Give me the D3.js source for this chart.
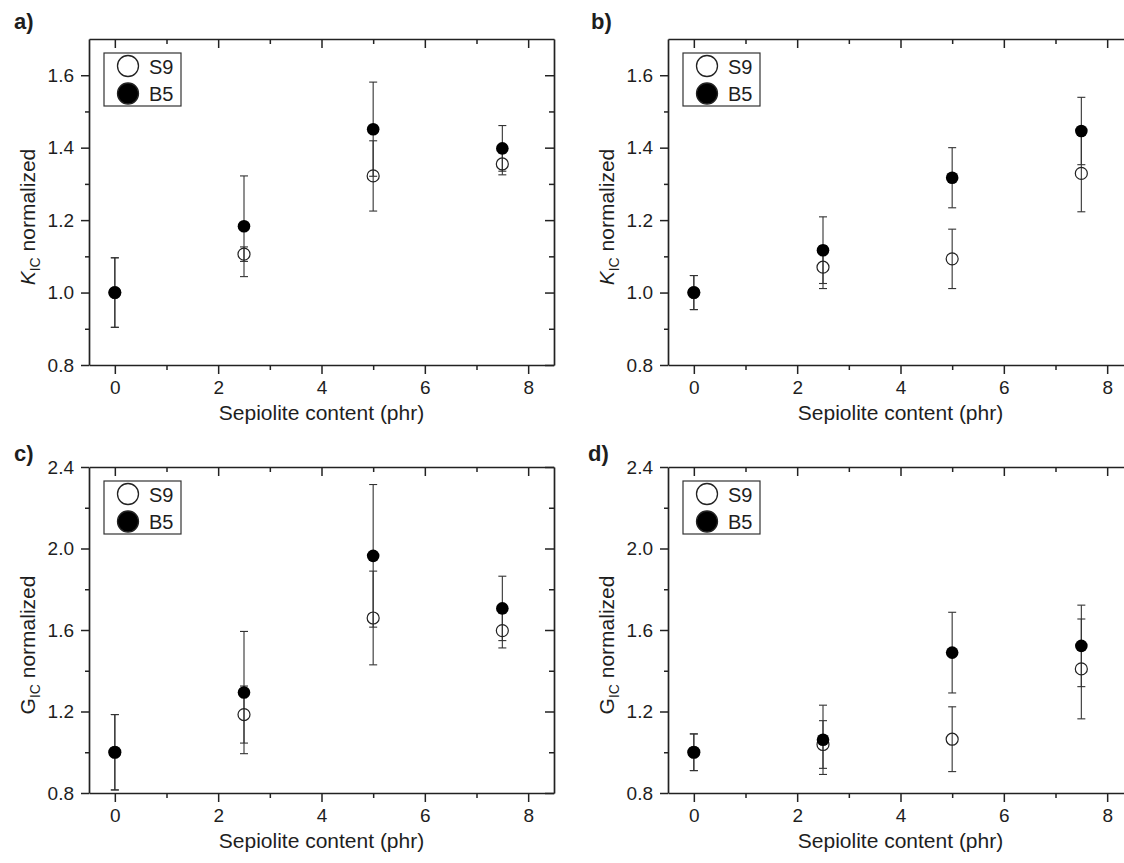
<!DOCTYPE html>
<html lang="en">
<head>
<meta charset="UTF-8">
<title>chart</title>
<style>
  body { margin: 0; background: #fff; }
  svg text { font-family: "Liberation Sans", Arial, sans-serif; fill: #1e1e1e; }
</style>
</head>
<body>
<script src="https://d3js.org/d3.v7.min.js"></script>
<script>
// sepiolite content (phr)
const sepiolite = [0, 2.5, 5, 7.5];
const seriesNames = ['S9', 'B5'];

// a) K_IC, first system
const kA_S9 = [1.0, 1.106, 1.322, 1.355];
const kA_S9err = [0.096, 0.02, 0.097, 0.03];
const kA_B5 = [1.0, 1.183, 1.451, 1.398];
const kA_B5err = [0.096, 0.139, 0.13, 0.063];

// b) K_IC, second system
const kB_S9 = [1.0, 1.070, 1.093, 1.329];
const kB_S9err = [0.047, 0.059, 0.082, 0.106];
const kB_B5 = [1.0, 1.117, 1.317, 1.446];
const kB_B5err = [0.047, 0.092, 0.083, 0.093];

// c) G_IC, first system
const gC_S9 = [1.0, 1.185, 1.659, 1.597];
const gC_S9err = [0.185, 0.14, 0.23, 0.085];
const gC_B5 = [1.0, 1.293, 1.964, 1.706];
const gC_B5err = [0.185, 0.30, 0.35, 0.158];

// d) G_IC, second system
const gD_S9 = [1.0, 1.038, 1.064, 1.409];
const gD_S9err = [0.09, 0.117, 0.159, 0.245];
const gD_B5 = [1.0, 1.061, 1.489, 1.522];
const gD_B5err = [0.09, 0.17, 0.198, 0.2];

// ticks
const xMajor = [0, 2, 4, 6, 8];
const xMinor = [1, 3, 5, 7];
const kMajor = [0.8, 1.0, 1.2, 1.4, 1.6];
const kMinor = [0.9, 1.1, 1.3, 1.5];
const gMajor = [0.8, 1.2, 1.6, 2.0, 2.4];
const gMinor = [1.0, 1.4, 1.8, 2.2];

const width = 1124;
const height = 863;
const plotW = 465;
const plotH = 326;

const svg = d3.select('body')
  .append('svg')
  .attr('width', width)
  .attr('height', height);

const panels = [
  {tag: 'a)', tagX: 14, tagY: 29, left: 89, top: 39, sym: 'K', italic: true,
    yDomain: [0.8, 1.7], major: kMajor, minor: kMinor,
    s9: kA_S9, s9e: kA_S9err, b5: kA_B5, b5e: kA_B5err},
  {tag: 'b)', tagX: 591, tagY: 29, left: 668, top: 39, sym: 'K', italic: true,
    yDomain: [0.8, 1.7], major: kMajor, minor: kMinor,
    s9: kB_S9, s9e: kB_S9err, b5: kB_B5, b5e: kB_B5err},
  {tag: 'c)', tagX: 14, tagY: 461, left: 89, top: 467, sym: 'G', italic: false,
    yDomain: [0.8, 2.4], major: gMajor, minor: gMinor,
    s9: gC_S9, s9e: gC_S9err, b5: gC_B5, b5e: gC_B5err},
  {tag: 'd)', tagX: 588, tagY: 461, left: 668, top: 467, sym: 'G', italic: false,
    yDomain: [0.8, 2.4], major: gMajor, minor: gMinor,
    s9: gD_S9, s9e: gD_S9err, b5: gD_B5, b5e: gD_B5err}
];

function styleAxis(sel) {
  sel.select('.domain').attr('stroke', '#222').attr('stroke-width', 1.7);
  sel.selectAll('.tick line').attr('stroke', '#222').attr('stroke-width', 1.5);
  sel.selectAll('.tick text').style('font-size', '19px').attr('fill', '#1e1e1e');
}

function drawPanel(p) {
  const bottom = p.top + plotH;
  const right = p.left + plotW;
  const x = d3.scaleLinear().domain([-0.5, 8.5]).range([p.left, right]);
  const y = d3.scaleLinear().domain(p.yDomain).range([bottom, p.top]);
  const g = svg.append('g');

  // bottom axis (outward ticks)
  g.append('g').attr('transform', `translate(0,${bottom})`)
    .call(d3.axisBottom(x).tickValues(xMajor).tickSize(9).tickSizeOuter(0).tickPadding(7).tickFormat(d3.format('d')))
    .call(styleAxis);
  g.append('g').attr('transform', `translate(0,${bottom})`)
    .call(d3.axisBottom(x).tickValues(xMinor).tickSize(5).tickFormat(''))
    .call(s => s.select('.domain').remove())
    .call(styleAxis);

  // left axis (outward ticks)
  g.append('g').attr('transform', `translate(${p.left},0)`)
    .call(d3.axisLeft(y).tickValues(p.major).tickSize(8).tickSizeOuter(0).tickPadding(7).tickFormat(d3.format('.1f')))
    .call(styleAxis);
  g.append('g').attr('transform', `translate(${p.left},0)`)
    .call(d3.axisLeft(y).tickValues(p.minor).tickSize(4).tickFormat(''))
    .call(s => s.select('.domain').remove())
    .call(styleAxis);

  // top axis (inward ticks)
  g.append('g').attr('transform', `translate(0,${p.top})`)
    .call(d3.axisTop(x).tickValues(xMajor).tickSize(-9).tickSizeOuter(0).tickFormat(''))
    .call(styleAxis);
  g.append('g').attr('transform', `translate(0,${p.top})`)
    .call(d3.axisTop(x).tickValues(xMinor).tickSize(-5).tickFormat(''))
    .call(s => s.select('.domain').remove())
    .call(styleAxis);

  // right axis (inward ticks)
  g.append('g').attr('transform', `translate(${right},0)`)
    .call(d3.axisRight(y).tickValues(p.major).tickSize(-9).tickSizeOuter(0).tickFormat(''))
    .call(styleAxis);
  g.append('g').attr('transform', `translate(${right},0)`)
    .call(d3.axisRight(y).tickValues(p.minor).tickSize(-5).tickFormat(''))
    .call(s => s.select('.domain').remove())
    .call(styleAxis);

  // error bars, both series
  const series = [
    {vals: p.s9, errs: p.s9e},
    {vals: p.b5, errs: p.b5e}
  ];
  series.forEach(function (s) {
    const eb = g.append('g').selectAll('g')
      .data(sepiolite.map((c, i) => ({c: c, v: s.vals[i], e: s.errs[i]})))
      .enter().append('g')
      .attr('stroke', '#333')
      .attr('stroke-width', 1.1);
    eb.append('line')
      .attr('x1', d => x(d.c)).attr('x2', d => x(d.c))
      .attr('y1', d => y(d.v - d.e)).attr('y2', d => y(d.v + d.e));
    eb.append('line')
      .attr('x1', d => x(d.c) - 4).attr('x2', d => x(d.c) + 4)
      .attr('y1', d => y(d.v + d.e)).attr('y2', d => y(d.v + d.e));
    eb.append('line')
      .attr('x1', d => x(d.c) - 4).attr('x2', d => x(d.c) + 4)
      .attr('y1', d => y(d.v - d.e)).attr('y2', d => y(d.v - d.e));
  });

  // S9 open circles
  g.append('g').selectAll('circle')
    .data(p.s9)
    .enter().append('circle')
    .attr('cx', (d, i) => x(sepiolite[i]))
    .attr('cy', d => y(d))
    .attr('r', 6)
    .attr('fill', 'none')
    .attr('stroke', '#222')
    .attr('stroke-width', 1.2);

  // B5 filled circles
  g.append('g').selectAll('circle')
    .data(p.b5)
    .enter().append('circle')
    .attr('cx', (d, i) => x(sepiolite[i]))
    .attr('cy', d => y(d))
    .attr('r', 6.3)
    .attr('fill', '#000');

  // legend
  const lg = g.append('g').attr('transform', `translate(${p.left + 15},${p.top + 14})`);
  lg.append('rect')
    .attr('width', 77).attr('height', 53)
    .attr('fill', '#fff').attr('stroke', '#333').attr('stroke-width', 1.2);
  seriesNames.forEach(function (name, i) {
    lg.append('circle')
      .attr('cx', 24).attr('cy', 13 + i * 27.5)
      .attr('r', 10.5)
      .attr('fill', i === 0 ? '#fff' : '#000')
      .attr('stroke', '#222').attr('stroke-width', 1.3);
    lg.append('text')
      .attr('x', 45).attr('y', 21 + i * 27)
      .style('font-size', '20px')
      .text(name);
  });

  // axis titles
  g.append('text')
    .attr('x', (p.left + right) / 2)
    .attr('y', bottom + 55)
    .attr('text-anchor', 'middle')
    .style('font-size', '21px')
    .text('Sepiolite content (phr)');

  const yl = g.append('text')
    .attr('transform', `translate(${p.left - 54},${(p.top + bottom) / 2 + 15}) rotate(-90)`)
    .attr('text-anchor', 'middle')
    .style('font-size', '21px');
  yl.append('tspan').text(p.sym).style('font-style', p.italic ? 'italic' : 'normal');
  yl.append('tspan').text('IC').attr('dy', 5).style('font-size', '14px');
  yl.append('tspan').text(' normalized').attr('dy', -5);

  // panel tag
  svg.append('text')
    .attr('x', p.tagX).attr('y', p.tagY)
    .style('font-size', '22px').style('font-weight', 'bold')
    .text(p.tag);
}

panels.forEach(drawPanel);
</script>
</body>
</html>
